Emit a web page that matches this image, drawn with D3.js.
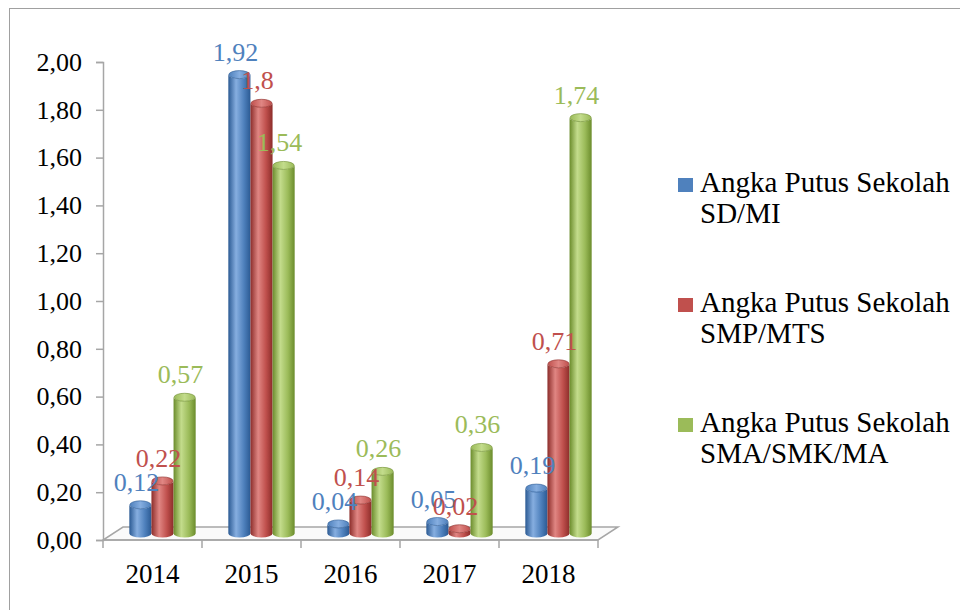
<!DOCTYPE html>
<html>
<head>
<meta charset="utf-8">
<script src="https://cdn.jsdelivr.net/npm/d3@7"></script>
<style>
  body { margin: 0; background: #fff; }
  text { font-family: "Liberation Serif", "Times New Roman", serif; }
</style>
</head>
<body>
<script>
// data
var years = ["2014", "2015", "2016", "2017", "2018"];
var seriesNames = ["Angka Putus Sekolah SD/MI", "Angka Putus Sekolah SMP/MTS", "Angka Putus Sekolah SMA/SMK/MA"];
var legendLines = [["Angka Putus Sekolah", "SD/MI"], ["Angka Putus Sekolah", "SMP/MTS"], ["Angka Putus Sekolah", "SMA/SMK/MA"]];
var sdValues = [0.12, 1.92, 0.04, 0.05, 0.19];
var smpValues = [0.22, 1.8, 0.14, 0.02, 0.71];
var smaValues = [0.57, 1.54, 0.26, 0.36, 1.74];
var labelText = [["0,12", "1,92", "0,04", "0,05", "0,19"],
                 ["0,22", "1,8", "0,14", "0,02", "0,71"],
                 ["0,57", "1,54", "0,26", "0,36", "1,74"]];
var yTicks = [0, 0.2, 0.4, 0.6, 0.8, 1.0, 1.2, 1.4, 1.6, 1.8, 2.0];

var allValues = [sdValues, smpValues, smaValues];
var colors = [
  {base: "#4F81BD", dark: "#2b5a93", light: "#86aee0"},
  {base: "#C0504D", dark: "#8c2d2a", light: "#e08683"},
  {base: "#9BBB59", dark: "#6b8c2c", light: "#c3dc8c"}
];

var width = 960, height = 610;
var plotLeft = 103, plotRight = 598, plotTop = 62, plotBottom = 540;
var depthX = 20, depthY = -13;

var svg = d3.select("body").append("svg")
    .attr("width", width)
    .attr("height", height);

var defs = svg.append("defs");
colors.forEach(function (c, i) {
  var g = defs.append("linearGradient").attr("id", "body" + i)
      .attr("x1", "0").attr("x2", "1").attr("y1", "0").attr("y2", "0");
  g.append("stop").attr("offset", "0").attr("stop-color", c.dark);
  g.append("stop").attr("offset", "0.35").attr("stop-color", c.light);
  g.append("stop").attr("offset", "0.7").attr("stop-color", c.base);
  g.append("stop").attr("offset", "1").attr("stop-color", c.dark);
  var t = defs.append("linearGradient").attr("id", "top" + i)
      .attr("x1", "0").attr("x2", "1").attr("y1", "0").attr("y2", "0");
  t.append("stop").attr("offset", "0").attr("stop-color", c.base);
  t.append("stop").attr("offset", "0.5").attr("stop-color", c.light);
  t.append("stop").attr("offset", "1").attr("stop-color", c.base);
});

// outer frame
svg.append("rect")
    .attr("x", 9.5).attr("y", 8.5)
    .attr("width", 1000).attr("height", 700)
    .attr("fill", "none").attr("stroke", "#a0a0a0").attr("stroke-width", 1);

var x = d3.scaleBand().domain(years).range([plotLeft, plotRight]).paddingInner(0.33).paddingOuter(0.165);
var xs = d3.scaleBand().domain([0, 1, 2]).range([0, x.bandwidth()]);
var y = d3.scaleLinear().domain([0, 2]).range([plotBottom, plotTop]);

// floor
svg.append("path")
    .attr("d", "M" + plotLeft + "," + plotBottom + "L" + plotRight + "," + plotBottom +
               "L" + (plotRight + depthX) + "," + (plotBottom + depthY) +
               "L" + (plotLeft + depthX) + "," + (plotBottom + depthY) + "Z")
    .attr("fill", "#fafafa").attr("stroke", "#a6a6a6").attr("stroke-width", 1.5);

// y axis
var yAxis = svg.append("g")
    .attr("transform", "translate(" + plotLeft + ",0)")
    .call(d3.axisLeft(y).tickValues(yTicks).tickSize(7).tickPadding(14)
      .tickFormat(function (d) { return d3.format(".2f")(d).replace(".", ","); }));
yAxis.selectAll("path, line").attr("stroke", "#a6a6a6").attr("stroke-width", 1.5);
yAxis.selectAll("text").attr("font-size", 26).attr("fill", "#000")
    .style("font-family", "Liberation Serif, serif");

// x axis (front edge of floor)
var xAxis = svg.append("g")
    .attr("transform", "translate(0," + plotBottom + ")");
xAxis.append("line").attr("x1", plotLeft).attr("x2", plotRight)
    .attr("stroke", "#a6a6a6").attr("stroke-width", 1.5);
var step = x.step();
d3.range(years.length + 1).forEach(function (k) {
  xAxis.append("line")
      .attr("x1", plotLeft + k * step).attr("x2", plotLeft + k * step)
      .attr("y1", 0).attr("y2", 8)
      .attr("stroke", "#a6a6a6").attr("stroke-width", 1.5);
});
xAxis.selectAll("text.year").data(years).enter().append("text")
    .attr("class", "year")
    .attr("x", function (d) { return x(d) + x.bandwidth() / 2; })
    .attr("y", 43)
    .attr("text-anchor", "middle")
    .attr("font-size", 27)
    .text(function (d) { return d; });

// cylinders
var ry = 4;
var baseY = plotBottom + depthY / 2;
var bars = [];
allValues.forEach(function (vals, s) {
  vals.forEach(function (v, i) {
    bars.push({s: s, i: i, v: v});
  });
});

var barG = svg.append("g").attr("transform", "translate(" + depthX / 2 + ",0)");
var cyl = barG.selectAll("g.bar").data(bars).enter().append("g").attr("class", "bar");

cyl.append("path")
    .attr("d", function (d) {
      var x0 = x(years[d.i]) + xs(d.s), w = xs.bandwidth(), rx = w / 2;
      var t = y(d.v) + depthY / 2;
      return "M" + x0 + "," + t + "L" + x0 + "," + baseY +
             "A" + rx + "," + ry + " 0 0 0 " + (x0 + w) + "," + baseY +
             "L" + (x0 + w) + "," + t +
             "A" + rx + "," + ry + " 0 0 1 " + x0 + "," + t + "Z";
    })
    .attr("fill", function (d) { return "url(#body" + d.s + ")"; });

cyl.append("ellipse")
    .attr("cx", function (d) { return x(years[d.i]) + xs(d.s) + xs.bandwidth() / 2; })
    .attr("cy", function (d) { return y(d.v) + depthY / 2; })
    .attr("rx", xs.bandwidth() / 2 - 0.5)
    .attr("ry", ry)
    .attr("fill", function (d) { return "url(#top" + d.s + ")"; })
    .attr("stroke", function (d) { return colors[d.s].dark; })
    .attr("stroke-width", 0.6);

// value labels
barG.selectAll("text.val").data(bars).enter().append("text")
    .attr("class", "val")
    .attr("x", function (d) { return x(years[d.i]) + xs(d.s) + xs.bandwidth() / 2 - 4; })
    .attr("y", function (d) { return y(d.v) + depthY / 2 - 14; })
    .attr("text-anchor", "middle")
    .attr("font-size", 26)
    .attr("fill", function (d) { return colors[d.s].base; })
    .text(function (d) { return labelText[d.s][d.i]; });

// legend
var legend = svg.append("g").attr("transform", "translate(678,0)");
var item = legend.selectAll("g.item").data(seriesNames).enter().append("g")
    .attr("class", "item")
    .attr("transform", function (d, i) { return "translate(0," + (192 + i * 120) + ")"; });
item.append("rect")
    .attr("x", 0).attr("y", -14).attr("width", 15).attr("height", 14)
    .attr("fill", function (d, i) { return colors[i].base; });
item.append("text")
    .attr("x", 22).attr("y", 0)
    .attr("font-size", 29)
    .selectAll("tspan").data(function (d, i) { return legendLines[i]; }).enter().append("tspan")
    .attr("x", 22)
    .attr("dy", function (d, j) { return j === 0 ? 0 : 31; })
    .text(function (d) { return d; });
</script>
</body>
</html>
